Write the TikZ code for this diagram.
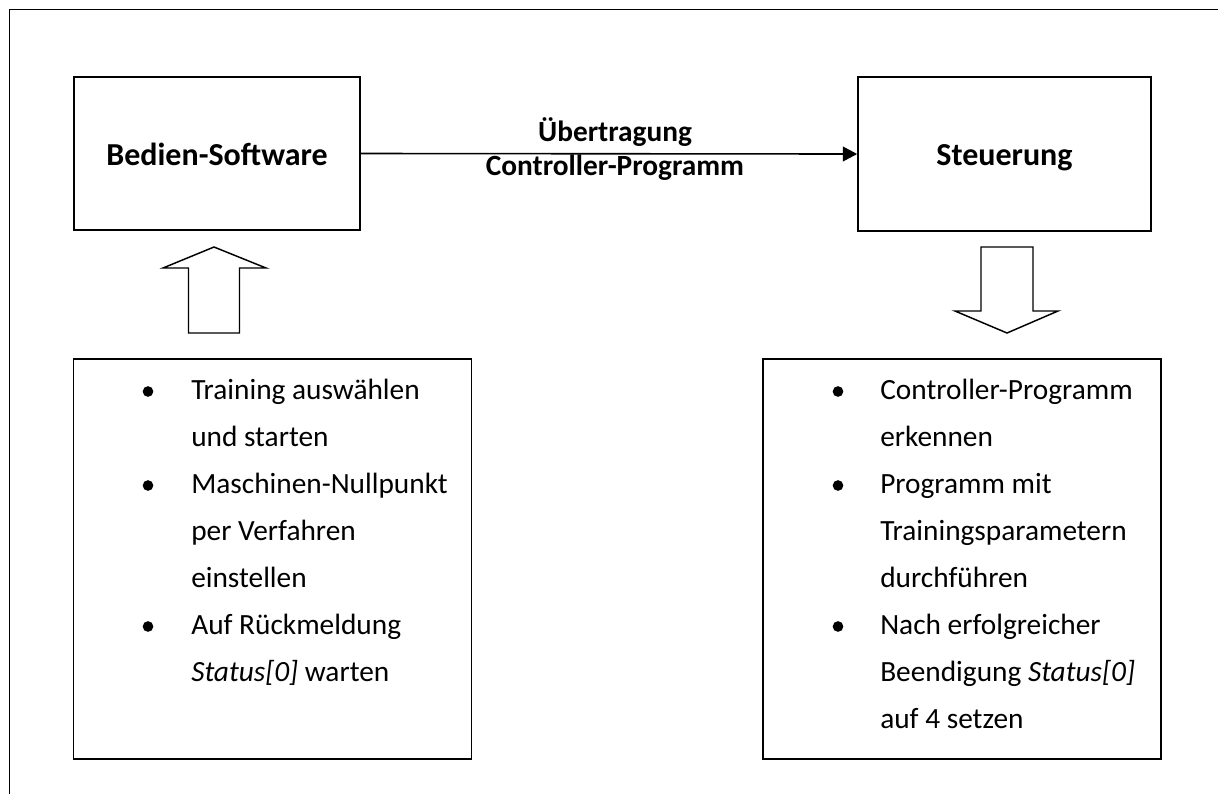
\documentclass[tikz,border=0pt]{standalone}
\usepackage{fontspec}
\setmainfont{Carlito}
\usetikzlibrary{arrows.meta}
\begin{document}
\begin{tikzpicture}[x=0.75pt,y=-0.75pt,
  frame/.style={line width=1.4pt},
  blockbox/.style={draw,line width=1.2pt,inner sep=0pt,text height=17.25pt,text depth=0pt,
    font=\fontsize{24}{28}\selectfont\bfseries},
  listbox/.style={draw,line width=1.2pt,inner sep=0pt},
  txt/.style={anchor=base west,inner sep=0pt,font=\fontsize{22}{26}\selectfont},
  lbl/.style={anchor=base,inner sep=0pt,font=\fontsize{22}{26}\selectfont\bfseries},
  dot/.style={circle,fill,inner sep=0pt,minimum size=8pt},
  blockarrow/.style={draw,line width=1.1pt,line join=miter,fill=white}]
\useasboundingbox (0,0) rectangle (1218,794);
% open outer frame: top and left edges only
\draw[frame] (9.5,794) -- (9.5,9.5) -- (1218,9.5);

% main blocks
\node[blockbox,minimum width=286*0.75pt,minimum height=153*0.75pt] (sw) at (217,153.5) {Bedien-Software};
\node[blockbox,minimum width=293*0.75pt,minimum height=154*0.75pt] (st) at (1004.5,154) {Steuerung};
\draw[line width=1.2pt,-{Triangle[length=10.7pt,width=11pt]}] (sw.east) -- (st.west);
\node[lbl] (l1) at (615,141.5) {Übertragung};
\node[lbl] (l2) at (615,175) {Controller-Programm};

% hollow block arrows
\draw[blockarrow] (214,247) -- (266,268) -- (239.5,268) -- (239.5,333) -- (188.5,333) -- (188.5,268) -- (163,268) -- cycle;
\draw[blockarrow] (1007,333) -- (955,311) -- (981,311) -- (981,247) -- (1033,247) -- (1033,311) -- (1058,311) -- cycle;

% list boxes
\node[listbox,minimum width=398*0.75pt,minimum height=400*0.75pt] (lb) at (272.5,559) {};
\node[listbox,minimum width=398*0.75pt,minimum height=400*0.75pt] (rb) at (962,559) {};

% left list
\node[dot] (la) at (148,391.5) {};
\node[dot] (lb2) at (148,485.5) {};
\node[dot] (lc) at (148,626.5) {};
\node[txt] (t1) at (191,399) {Training auswählen};
\node[txt] (t2) at (191,446) {und starten};
\node[txt] (t3) at (191,493) {Maschinen-Nullpunkt};
\node[txt] (t4) at (191,540) {per Verfahren};
\node[txt] (t5) at (191,587) {einstellen};
\node[txt] (t6) at (191,634) {Auf Rückmeldung};
\node[txt] (t7) at (191,681) {\itshape Status[0]\upshape{} warten};

% right list
\node[dot] (ra) at (838,391.5) {};
\node[dot] (rb2) at (838,485.5) {};
\node[dot] (rc) at (838,626.5) {};
\node[txt] (r1) at (880,399) {Controller-Programm};
\node[txt] (r2) at (880,446) {erkennen};
\node[txt] (r3) at (880,493) {Programm mit};
\node[txt] (r4) at (880,540) {Trainingsparametern};
\node[txt] (r5) at (880,587) {durchführen};
\node[txt] (r6) at (880,634) {Nach erfolgreicher};
\node[txt] (r7) at (880,681) {Beendigung \itshape Status[0]};
\node[txt] (r8) at (880,728) {auf 4 setzen};
\end{tikzpicture}
\end{document}
